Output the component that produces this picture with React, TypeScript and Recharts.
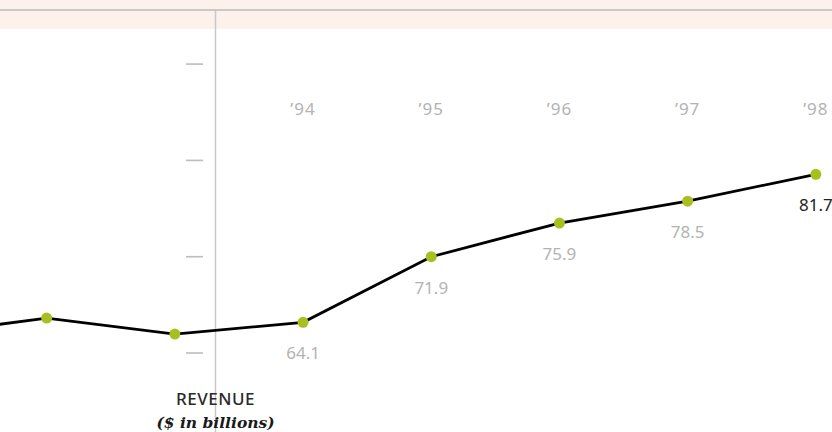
import React from "react";
import { LineChart, Line, XAxis, YAxis, ReferenceLine, LabelList } from "recharts";

const years = ["’91", "’92", "’93", "’94", "’95", "’96", "’97", "’98"];
const revenue = [62.6, 64.6, 62.7, 64.1, 71.9, 75.9, 78.5, 81.7];
const valueLabels = ["", "", "", "64.1", "71.9", "75.9", "78.5", "81.7"];
const yearTicks = [3, 4, 5, 6, 7];
const gridTicks = [60.45, 71.9, 83.35, 94.8];
const axisPosition = 2.317;

const data = years.map((y, i) => ({ i, year: y, value: revenue[i], label: valueLabels[i] }));

const W = 832;
const H = 432;
const GRAY = "#b3b3b3";
const SANS = "'Noto Sans', sans-serif";

const YearTick = (props: any) => {
  const { x, payload } = props;
  return (
    <text x={x} y={115} textAnchor="middle" fill={GRAY} fontSize={17} fontFamily={SANS} letterSpacing={1}>
      {years[payload.value]}
    </text>
  );
};

const DashTick = (props: any) => {
  const { y } = props;
  return <line x1={186} x2={203} y1={y} y2={y} stroke="#bdbdbd" strokeWidth={1.6} />;
};

const ValueLabel = (props: any) => {
  const { x, y, value, index } = props;
  if (!value) return null;
  const last = index === years.length - 1;
  return (
    <text x={x} y={y + 37} textAnchor="middle" fill={last ? "#222" : GRAY} fontSize={17} fontFamily={SANS}>
      {value}
    </text>
  );
};

const AxisTitle = (props: any) => {
  const vb = props.viewBox || {};
  const cx = vb.x;
  return (
    <g>
      <text x={cx} y={405} textAnchor="middle" fill="#2a2a2a" fontSize={17} fontFamily={SANS} fontWeight={500} letterSpacing={0.5}>
        REVENUE
      </text>
      <text x={cx} y={428} textAnchor="middle" fill="#1a1a1a" fontSize={15.5} fontFamily="'DejaVu Serif', serif" fontStyle="italic" fontWeight={700}>
        ($ in billions)
      </text>
    </g>
  );
};

export default function App() {
  return (
    <div
      style={{
        position: "absolute",
        left: 0,
        top: 0,
        width: W,
        height: H,
        background: "linear-gradient(to bottom, #fcf1eb 0px, #fcf1eb 29px, #ffffff 29px)",
      }}
    >
      <LineChart width={W} height={H} data={data} margin={{ top: 9, right: 0, bottom: 0, left: -1 }}>
        <XAxis
          type="number"
          dataKey="i"
          orientation="top"
          height={1}
          domain={[0.636, 7.126]}
          allowDataOverflow
          ticks={yearTicks}
          tick={<YearTick />}
          tickLine={false}
          axisLine={{ stroke: "#bbbbbb", strokeWidth: 1.5 }}
          interval={0}
        />
        <YAxis
          type="number"
          width={1}
          domain={[51.06, 101.23]}
          allowDataOverflow
          ticks={gridTicks}
          tick={<DashTick />}
          tickLine={false}
          axisLine={false}
          interval={0}
        />
        <ReferenceLine x={axisPosition} stroke="#c8c8c8" strokeWidth={1.5} label={<AxisTitle />} />
        <Line
          type="linear"
          dataKey="value"
          stroke="#000"
          strokeWidth={2.8}
          dot={{ r: 5.5, fill: "#a9bf1f", stroke: "none" }}
          isAnimationActive={false}
        >
          <LabelList dataKey="label" content={<ValueLabel />} />
        </Line>
      </LineChart>
    </div>
  );
}
